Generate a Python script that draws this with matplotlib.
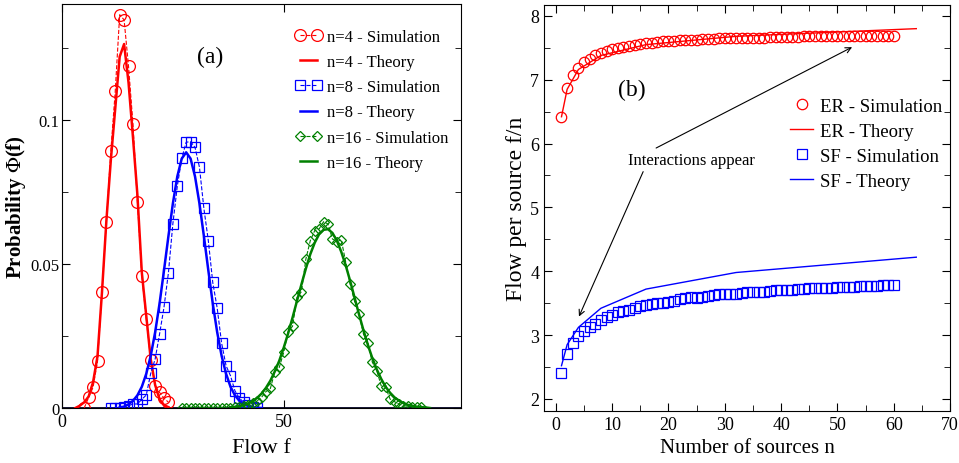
import matplotlib
matplotlib.use("Agg")
import matplotlib.pyplot as plt
from matplotlib.ticker import MultipleLocator, FuncFormatter

plt.rcParams['font.family'] = ['Liberation Serif', 'DejaVu Serif']
plt.rcParams['mathtext.fontset'] = 'stix'

# ---------------- Panel (a) data ----------------
f4_sim = list(range(5, 25))
p4_sim = [0.0, 0.0037, 0.0072, 0.0162, 0.0402, 0.0647, 0.0891, 0.110, 0.1366, 0.1348,
          0.1186, 0.0986, 0.0716, 0.0459, 0.0309, 0.0168, 0.0077, 0.0054, 0.0034, 0.002]
f4_th = list(range(3, 25))
p4_th = [0.0, 0.0008, 0.002, 0.004, 0.009, 0.018, 0.040, 0.065, 0.086, 0.104, 0.122,
         0.1264, 0.113, 0.094, 0.074, 0.047, 0.032, 0.017, 0.008, 0.003, 0.001, 0.0003]

f8_sim = list(range(11, 45))
p8_sim = [0.0, 0.0, 0.0, 0.0002, 0.0008, 0.0014, 0.0014, 0.003, 0.0045, 0.012, 0.017,
          0.0257, 0.035, 0.047, 0.064, 0.077, 0.0867, 0.0923, 0.0925, 0.0905, 0.0836,
          0.0693, 0.0581, 0.0436, 0.0347, 0.0225, 0.0147, 0.0112, 0.006, 0.0034, 0.002,
          0.0012, 0.0005, 0.0]
f8_th = list(range(13, 46))
p8_th = [0.0002, 0.0005, 0.0013, 0.0025, 0.0044, 0.0074, 0.0119, 0.0181, 0.0263, 0.0363,
         0.0478, 0.0597, 0.0710, 0.0804, 0.0866, 0.0888, 0.0866, 0.0804, 0.0710, 0.0597,
         0.0478, 0.0363, 0.0263, 0.0181, 0.0119, 0.0074, 0.0044, 0.0025, 0.0013, 0.0007,
         0.0003, 0.0001, 0.0]

f16_sim = list(range(27, 82))
p16_sim = [0.0, 0.0, 0.0, 0.0, 0.0, 0.0, 0.0, 0.0, 0.0, 0.0, 0.0, 0.0, 0.0003, 0.0005,
           0.0008, 0.0012, 0.0018, 0.0025, 0.0037, 0.0057, 0.0068, 0.0126, 0.0141, 0.0193,
           0.0265, 0.0284, 0.0384, 0.0404, 0.0517, 0.0581, 0.0616, 0.0622, 0.0647, 0.0639,
           0.0587, 0.0578, 0.0584, 0.0506, 0.043, 0.037, 0.0326, 0.0257, 0.0226, 0.0159,
           0.013, 0.0077, 0.0072, 0.0031, 0.0022, 0.0014, 0.0008, 0.0006, 0.0005, 0.0004,
           0.0002]
f16_th = list(range(38, 84))
p16_th = [0.0003, 0.0004, 0.0007, 0.0010, 0.0016, 0.0024, 0.0035, 0.0050, 0.0070, 0.0095,
          0.0127, 0.0164, 0.0209, 0.0259, 0.0314, 0.0372, 0.0429, 0.0484, 0.0534, 0.0574,
          0.0604, 0.0619, 0.0621, 0.0608, 0.0581, 0.0542, 0.0495, 0.0441, 0.0383, 0.0325,
          0.0270, 0.0219, 0.0173, 0.0134, 0.0101, 0.0074, 0.0053, 0.0037, 0.0026, 0.0017,
          0.0011, 0.0007, 0.0004, 0.0003, 0.0002, 0.0]

# ---------------- Panel (b) data ----------------
n_sim = list(range(1, 61))
er_sim = [6.42, 6.87, 7.08, 7.19, 7.28, 7.33, 7.38, 7.42, 7.45, 7.48,
          7.50, 7.52, 7.53, 7.55, 7.56, 7.57, 7.58, 7.59, 7.60, 7.60,
          7.61, 7.62, 7.62, 7.63, 7.63, 7.64, 7.64, 7.64, 7.65, 7.65,
          7.65, 7.65, 7.66, 7.66, 7.66, 7.66, 7.66, 7.67, 7.67, 7.67,
          7.67, 7.67, 7.67, 7.68, 7.68, 7.68, 7.68, 7.68, 7.68, 7.68,
          7.68, 7.68, 7.69, 7.69, 7.69, 7.69, 7.69, 7.69, 7.69, 7.69]
sf_sim = [2.40, 2.70, 2.87, 2.98, 3.07, 3.13, 3.18, 3.24, 3.28, 3.32,
          3.36, 3.38, 3.40, 3.42, 3.45, 3.47, 3.49, 3.50, 3.50, 3.52,
          3.53, 3.56, 3.58, 3.59, 3.58, 3.60, 3.61, 3.62, 3.64, 3.64,
          3.64, 3.65, 3.66, 3.67, 3.67, 3.68, 3.68, 3.69, 3.70, 3.70,
          3.71, 3.71, 3.72, 3.72, 3.73, 3.73, 3.73, 3.74, 3.74, 3.75,
          3.75, 3.76, 3.76, 3.77, 3.77, 3.77, 3.77, 3.79, 3.78, 3.78]
n_th = [1, 2, 4, 8, 16, 32, 64]
er_th = [6.42, 6.85, 7.16, 7.38, 7.55, 7.68, 7.80]
sf_th = [2.52, 2.85, 3.12, 3.42, 3.72, 3.98, 4.22]

fig = plt.figure(figsize=(9.59, 4.64), dpi=100)

# ---------------- Panel (a) ----------------
ax1 = fig.add_axes([0.0647, 0.1185, 0.416, 0.8707])
ax1.axhline(0, color='#000022', lw=2.0, zorder=1)
sim_kw = dict(ls='--', lw=0.8, mfc='none', mew=0.9)
ax1.plot(f4_sim, p4_sim, color='red', marker='o', ms=8.5, label='n=4 - Simulation', **sim_kw)
ax1.plot(f4_th, p4_th, color='red', lw=1.8, label='n=4 - Theory')
ax1.plot(f8_sim, p8_sim, color='blue', marker='s', ms=7.5, label='n=8 - Simulation', **sim_kw)
ax1.plot(f8_th, p8_th, color='blue', lw=1.8, label='n=8 - Theory')
ax1.plot(f16_sim, p16_sim, color='green', marker='D', ms=5.5, label='n=16 - Simulation',
         **sim_kw)
ax1.plot(f16_th, p16_th, color='green', lw=1.8, label='n=16 - Theory')

ax1.set_xlim(0, 90)
ax1.set_ylim(0, 0.1403)
ax1.xaxis.set_major_locator(MultipleLocator(50))
ax1.yaxis.set_major_locator(MultipleLocator(0.05))
ax1.yaxis.set_minor_locator(MultipleLocator(0.025))
ax1.yaxis.set_major_formatter(FuncFormatter(lambda v, p: '%g' % round(v, 4)))
ax1.tick_params(which='both', direction='in', top=True, right=True, labelsize=13)
ax1.tick_params(axis='y', labelsize=12, pad=2)
ax1.tick_params(which='major', length=6)
ax1.tick_params(which='minor', length=4)
ax1.set_xlabel('Flow f', fontsize=16, labelpad=6)
ax1.set_ylabel(r'Probability $\Phi$(f)', fontsize=15, fontweight='bold')
ax1.yaxis.set_label_coords(-0.085, 0.5)
ax1.text(33.5, 0.1222, '(a)', fontsize=17, ha='center', va='center')
ax1.legend(loc='upper right', bbox_to_anchor=(0.985, 0.955), frameon=False, numpoints=2,
           fontsize=12, handlelength=1.6, handletextpad=0.3, labelspacing=0.55,
           borderaxespad=0.0)

# ---------------- Panel (b) ----------------
ax2 = fig.add_axes([0.5673, 0.112, 0.4234, 0.875])
ax2.plot(n_sim, er_sim, ls='none', marker='o', ms=7.5, mfc='none', mec='red', mew=0.9,
         label='ER - Simulation')
ax2.plot(n_th, er_th, color='red', lw=1.0, label='ER - Theory')
ax2.plot(n_sim, sf_sim, ls='none', marker='s', ms=6.5, mfc='none', mec='blue', mew=0.9,
         label='SF - Simulation')
ax2.plot(n_th, sf_th, color='blue', lw=1.0, label='SF - Theory')

ax2.set_xlim(-2.1, 70)
ax2.set_ylim(1.81, 8.17)
ax2.xaxis.set_major_locator(MultipleLocator(10))
ax2.xaxis.set_minor_locator(MultipleLocator(5))
ax2.yaxis.set_major_locator(MultipleLocator(1))
ax2.yaxis.set_minor_locator(MultipleLocator(0.5))
ax2.tick_params(which='both', direction='in', top=True, right=True, labelsize=13)
ax2.tick_params(which='major', length=6)
ax2.tick_params(which='minor', length=4)
ax2.set_xlabel('Number of sources n', fontsize=15, labelpad=4)
ax2.set_ylabel('Flow per source f/n', fontsize=17)
ax2.yaxis.set_label_coords(-0.042, 0.5)
ax2.text(13.5, 6.85, '(b)', fontsize=17, ha='center', va='center')

ax2.text(24.0, 5.74, 'Interactions appear', ha='center', va='center', fontsize=12)
ax2.annotate('', xy=(52.6, 7.51), xytext=(17.8, 5.93),
             arrowprops=dict(arrowstyle='->', lw=0.8, color='black', shrinkA=0, shrinkB=0))
ax2.annotate('', xy=(4.1, 3.29), xytext=(15.5, 5.56),
             arrowprops=dict(arrowstyle='->', lw=0.8, color='black', shrinkA=0, shrinkB=0))

ax2.legend(loc='upper right', bbox_to_anchor=(1.0, 0.79), frameon=False, numpoints=1,
           fontsize=13.5, handlelength=1.2, handletextpad=0.4, labelspacing=0.42,
           borderaxespad=0.0)

fig.savefig('out.png', dpi=100)
